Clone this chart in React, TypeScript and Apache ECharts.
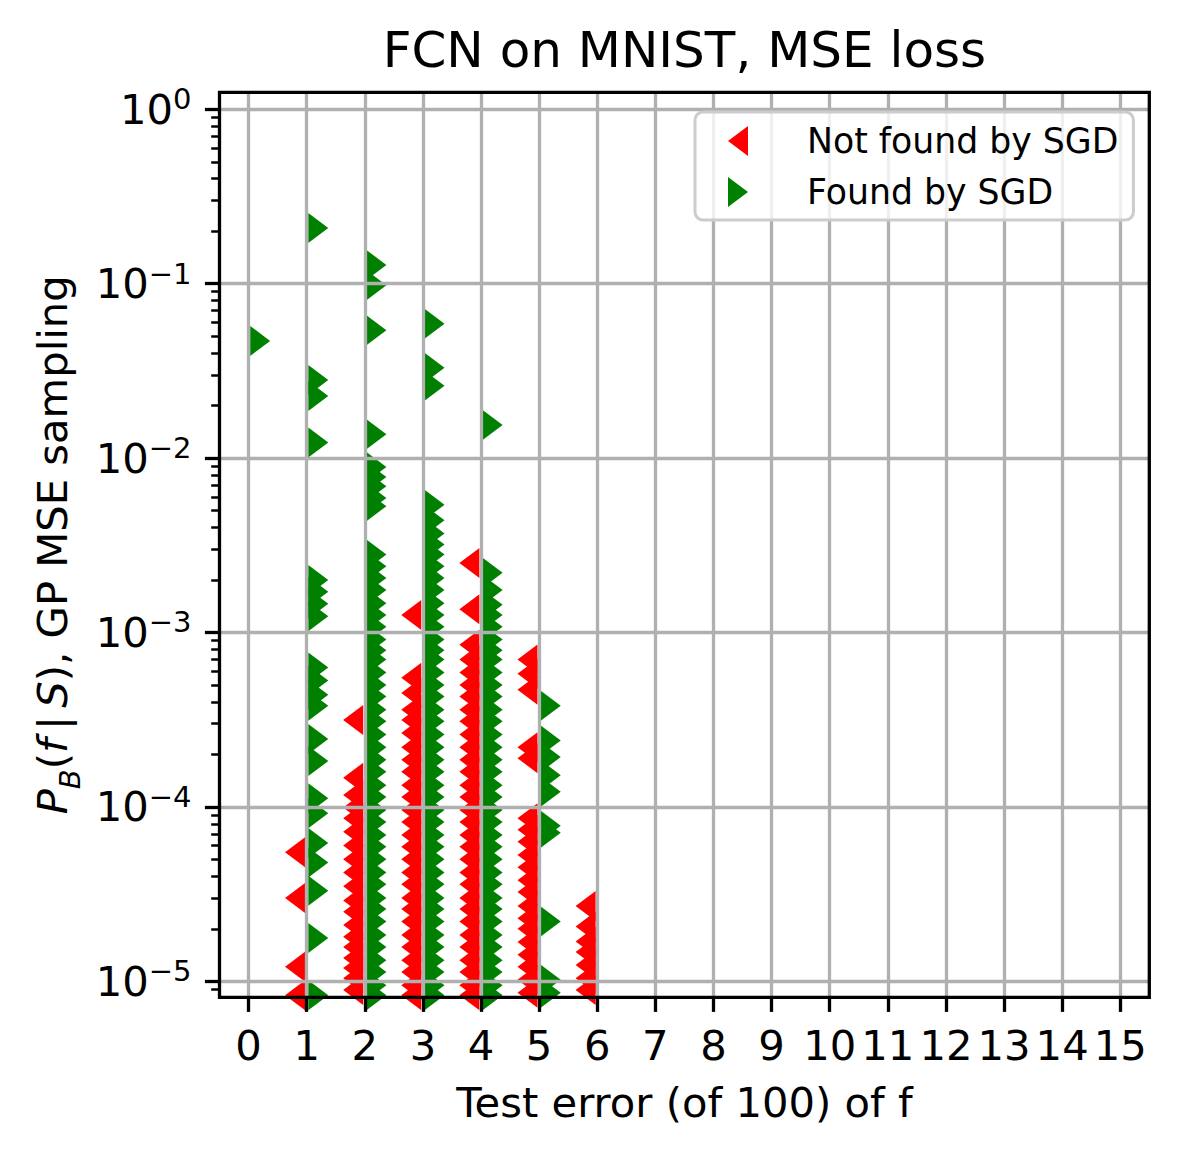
import React, { useEffect, useRef } from "react";
import * as echarts from "echarts";

const FONT = "DejaVu Sans";

// Axis settings
const testErrorTicks = [0, 1, 2, 3, 4, 5, 6, 7, 8, 9, 10, 11, 12, 13, 14, 15];
const yTickExponents = [-5, -4, -3, -2, -1, 0];
const xLimits = [-0.5, 15.5];
const yLimits = [8.09e-6, 1.252];
const markerOffset = 0.2;

// P_B(f|S) of functions NOT found by SGD, by test error
const notFound1 = [5.5e-5, 3.0e-5, 1.21e-5, 8.3e-6];
const notFound2 = [
  3.15e-4, 1.47e-4, 1.17e-4, 9.9e-5, 8.6e-5, 7.2e-5, 6.0e-5, 5.0e-5, 4.2e-5, 3.5e-5,
  2.9e-5, 2.5e-5, 2.1e-5, 1.8e-5, 1.57e-5, 1.36e-5, 1.19e-5, 1.04e-5, 8.9e-6,
];
const notFound3 = [
  1.26e-3, 5.5e-4, 4.5e-4, 3.6e-4, 3.15e-4, 2.65e-4, 2.2e-4, 1.86e-4, 1.59e-4, 1.33e-4,
  1.14e-4, 9.6e-5, 8.2e-5, 6.9e-5, 5.9e-5, 5.0e-5, 4.2e-5, 3.6e-5, 3.0e-5, 2.6e-5,
  2.2e-5, 1.84e-5, 1.57e-5, 1.32e-5, 1.13e-5, 9.5e-6, 8.3e-6,
];
const notFound4 = [
  2.5e-3, 1.36e-3, 8.5e-4, 7.0e-4, 5.9e-4, 5.0e-4, 4.3e-4, 3.6e-4, 3.1e-4, 2.6e-4,
  2.2e-4, 1.86e-4, 1.59e-4, 1.33e-4, 1.14e-4, 9.6e-5, 8.2e-5, 6.9e-5, 5.9e-5, 5.0e-5,
  4.2e-5, 3.6e-5, 3.0e-5, 2.6e-5, 2.2e-5, 1.84e-5, 1.57e-5, 1.32e-5, 1.13e-5, 9.5e-6, 8.3e-6,
];
const notFound5 = [
  7.0e-4, 5.8e-4, 4.7e-4, 2.2e-4, 1.9e-4, 8.6e-5, 7.4e-5, 6.3e-5, 5.3e-5, 4.5e-5,
  3.8e-5, 3.25e-5, 2.7e-5, 2.3e-5, 2.0e-5, 1.68e-5, 1.42e-5, 1.21e-5, 1.02e-5, 8.6e-6,
];
const notFound6 = [2.7e-5, 2.06e-5, 1.69e-5, 1.47e-5, 1.24e-5, 1.04e-5, 8.9e-6];

// P_B(f|S) of functions found by SGD, by test error
const found0 = [0.047];
const found1 = [
  0.209, 0.028, 0.0227, 0.0123, 2.0e-3, 1.71e-3, 1.46e-3, 1.24e-3, 6.3e-4, 5.3e-4,
  4.4e-4, 3.8e-4, 2.45e-4, 1.83e-4, 1.12e-4, 9.2e-5, 6.2e-5, 4.8e-5, 3.3e-5, 1.77e-5, 8.3e-6,
];
const found2 = [
  0.128, 0.098, 0.054, 1.37e-2, 8.9e-3, 7.8e-3, 6.9e-3, 5.9e-3, 5.3e-3, 2.8e-3,
  2.4e-3, 2.05e-3, 1.75e-3, 1.47e-3, 1.26e-3, 1.08e-3, 9.1e-4, 7.9e-4, 7.0e-4, 5.9e-4,
  5.0e-4, 4.3e-4, 3.6e-4, 3.1e-4, 2.6e-4, 2.2e-4, 1.86e-4, 1.59e-4, 1.33e-4, 1.14e-4,
  9.6e-5, 8.2e-5, 6.9e-5, 5.9e-5, 5.0e-5, 4.2e-5, 3.6e-5, 3.0e-5, 2.6e-5, 2.2e-5,
  1.84e-5, 1.57e-5, 1.32e-5, 1.13e-5, 9.5e-6, 8.3e-6,
];
const found3 = [
  0.059, 0.033, 0.026, 5.4e-3, 4.4e-3, 3.7e-3, 3.2e-3, 2.8e-3, 2.4e-3, 2.05e-3,
  1.75e-3, 1.47e-3, 1.26e-3, 1.08e-3, 9.1e-4, 7.9e-4, 7.0e-4, 5.9e-4, 5.0e-4, 4.3e-4,
  3.6e-4, 3.1e-4, 2.6e-4, 2.2e-4, 1.86e-4, 1.59e-4, 1.33e-4, 1.14e-4, 9.6e-5, 8.2e-5,
  6.9e-5, 5.9e-5, 5.0e-5, 4.2e-5, 3.6e-5, 3.0e-5, 2.6e-5, 2.2e-5, 1.84e-5, 1.57e-5,
  1.32e-5, 1.13e-5, 9.5e-6, 8.3e-6,
];
const found4 = [
  0.0155, 2.2e-3, 1.75e-3, 1.44e-3, 1.26e-3, 1.08e-3, 9.1e-4, 7.9e-4, 7.0e-4, 5.9e-4,
  5.0e-4, 4.3e-4, 3.6e-4, 3.1e-4, 2.6e-4, 2.2e-4, 1.86e-4, 1.59e-4, 1.33e-4, 1.14e-4,
  9.6e-5, 8.2e-5, 6.9e-5, 5.9e-5, 5.0e-5, 4.2e-5, 3.6e-5, 3.0e-5, 2.6e-5, 2.2e-5,
  1.84e-5, 1.57e-5, 1.32e-5, 1.13e-5, 9.5e-6, 8.3e-6,
];
const found5 = [3.8e-4, 2.4e-4, 1.93e-4, 1.52e-4, 1.22e-4, 7.8e-5, 7.1e-5, 2.2e-5, 1.02e-5, 8.6e-6];

const notFoundGroups: [number, number[]][] = [
  [1, notFound1], [2, notFound2], [3, notFound3], [4, notFound4], [5, notFound5], [6, notFound6],
];
const foundGroups: [number, number[]][] = [
  [0, found0], [1, found1], [2, found2], [3, found3], [4, found4], [5, found5],
];

const LEFT_TRIANGLE = "path://M0,15L20,0L20,30Z";
const RIGHT_TRIANGLE = "path://M0,0L20,15L0,30Z";

export default function App() {
  const ref = useRef<HTMLDivElement>(null);

  useEffect(() => {
    const chart = echarts.init(ref.current as HTMLDivElement, null, { renderer: "svg" });

    const toPoints = (groups: [number, number[]][], dx: number) =>
      groups.flatMap(([err, vals]) => vals.map((v) => [err + dx, Math.log10(v)]));

    const yMin = Math.log10(yLimits[0]);
    const yMax = Math.log10(yLimits[1]);

    const minorTicks: number[] = [];
    for (let n = -6; n <= 0; n++) {
      for (let k = 2; k <= 9; k++) {
        const lv = Math.log10(k * Math.pow(10, n));
        if (lv > yMin && lv < yMax) minorTicks.push(lv);
      }
    }

    const black = "#000000";
    const gridColor = "#b0b0b0";

    const option: any = {
      animation: false,
      backgroundColor: "#ffffff",
      textStyle: { fontFamily: FONT },
      title: {
        text: "FCN on MNIST, MSE loss",
        left: 684.4,
        top: 25,
        padding: 0,
        textAlign: "center",
        textStyle: { fontFamily: FONT, fontSize: 50, lineHeight: 50, fontWeight: "normal", color: black },
      },
      grid: {
        left: 219.5,
        top: 92.3,
        width: 929.8,
        height: 905,
        show: true,
        z: 10,
        backgroundColor: "transparent",
        borderColor: black,
        borderWidth: 3.3,
      },
      legend: {
        left: 695,
        top: 112,
        orient: "vertical",
        padding: [9, 15, 8, 33],
        itemWidth: 20,
        itemHeight: 30,
        itemGap: 11,
        backgroundColor: "rgba(255,255,255,0.8)",
        borderColor: "#cccccc",
        borderWidth: 3,
        borderRadius: 8,
        selectedMode: false,
        textStyle: {
          fontFamily: FONT,
          fontSize: 34.7,
          lineHeight: 40,
          color: black,
          padding: [0, 0, 0, 54],
        },
        data: [
          { name: "Not found by SGD", icon: LEFT_TRIANGLE },
          { name: "Found by SGD", icon: RIGHT_TRIANGLE },
        ],
      },
      xAxis: [
        {
          type: "value",
          position: "bottom",
          min: xLimits[0],
          max: xLimits[1],
          z: 3,
          axisLine: { show: false, onZero: false },
          axisTick: {
            show: true,
            customValues: testErrorTicks,
            length: 14.6,
            lineStyle: { color: black, width: 3.3 },
          },
          axisLabel: {
            customValues: testErrorTicks,
            margin: 27.5,
            fontFamily: FONT,
            fontSize: 41.7,
            lineHeight: 42,
            color: black,
          },
          splitLine: { show: true, lineStyle: { color: gridColor, width: 3.3 } },
          name: "Test error (of 100) of f",
          nameLocation: "middle",
          nameGap: 84,
          nameTextStyle: { fontFamily: FONT, fontSize: 41.7, lineHeight: 42, color: black },
        },
      ],
      yAxis: [
        {
          type: "value",
          position: "left",
          min: yMin,
          max: yMax,
          z: 3,
          axisLine: { show: false, onZero: false },
          axisTick: {
            show: true,
            customValues: yTickExponents,
            length: 14.6,
            lineStyle: { color: black, width: 3.3 },
          },
          axisLabel: {
            customValues: yTickExponents,
            margin: 28,
            formatter: (v: number) =>
              "{b|10}{s|" + (Math.round(v) === 0 ? "0" : "\u2212" + Math.abs(Math.round(v))) + "}",
            rich: {
              b: { fontFamily: FONT, fontSize: 41.7, lineHeight: 49, color: black },
              s: { fontFamily: FONT, fontSize: 29, verticalAlign: "top", color: black },
            },
          },
          splitLine: { show: true, lineStyle: { color: gridColor, width: 3.3 } },
          name:
            "{i|P}{sub|B}{n|(}{i|f}{n|\u2009|\u2009}{i|S}{n|), GP MSE sampling}",
          nameLocation: "middle",
          nameRotate: 90,
          nameGap: 132,
          nameTextStyle: {
            rich: {
              i: { fontFamily: FONT, fontStyle: "italic", fontSize: 41.7, lineHeight: 65, color: black },
              sub: { fontFamily: FONT, fontStyle: "italic", fontSize: 29, verticalAlign: "bottom", color: black },
              n: { fontFamily: FONT, fontSize: 41.7, lineHeight: 65, color: black },
            },
          },
        },
        {
          type: "value",
          position: "left",
          min: yMin,
          max: yMax,
          z: 3,
          axisLine: { show: false, onZero: false },
          axisLabel: { show: false },
          splitLine: { show: false },
          axisTick: {
            show: true,
            customValues: minorTicks,
            length: 8.3,
            lineStyle: { color: black, width: 2.5 },
          },
        },
      ],
      series: [
        {
          type: "scatter",
          name: "Not found by SGD",
          yAxisIndex: 0,
          symbol: "triangle",
          symbolSize: [30, 20],
          symbolRotate: 90,
          itemStyle: { color: "#ff0000", opacity: 1 },
          emphasis: { disabled: true },
          silent: true,
          clip: true,
          z: 2,
          data: toPoints(notFoundGroups, -markerOffset),
        },
        {
          type: "scatter",
          name: "Found by SGD",
          yAxisIndex: 0,
          symbol: "triangle",
          symbolSize: [30, 20],
          symbolRotate: -90,
          itemStyle: { color: "#008000", opacity: 1 },
          emphasis: { disabled: true },
          silent: true,
          clip: true,
          z: 2,
          data: toPoints(foundGroups, markerOffset),
        },
      ],
    };

    chart.setOption(option);
    return () => chart.dispose();
  }, []);

  return (
    <div
      ref={ref}
      style={{ position: "absolute", left: 0, top: 0, width: 1178, height: 1154, background: "#ffffff" }}
    />
  );
}
